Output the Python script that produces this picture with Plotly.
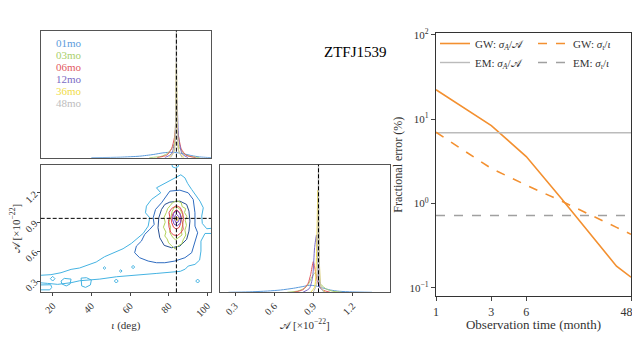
import plotly.graph_objects as go

# ---------------------------------------------------------------
# Right panel: fractional errors vs observation time
months = [1, 3, 6, 12, 36, 48]
gw_amp_err = [22.4, 8.4, 3.6, 1.15, 0.18, 0.133]
gw_inc_err = [7.0, 2.6, 1.65, 1.07, 0.52, 0.43]
em_amp_err = 6.9
em_inc_err = 0.72
month_ticks = [1, 3, 6, 48]

# ---------------------------------------------------------------
# Corner plot: truth and durations
truth_inc = 84.0
truth_amp = 0.94
durations = ["01mo", "03mo", "06mo", "12mo", "36mo", "48mo"]
dur_colors = ["#5b9bdc", "#a9cf6b", "#e25a5f", "#7a6bc4", "#f1dc46", "#bdbdbd"]

# 1D marginal of inclination (deg, relative height)
inc_x = {
    "01mo": [40, 55, 65, 72, 77, 80, 84, 88, 92, 96, 100, 104],
    "03mo": [70, 76, 79, 81.5, 83, 84, 85.5, 88, 91, 96],
    "06mo": [74, 79, 81.5, 83, 84, 85, 86.5, 89, 94],
    "12mo": [78, 81.5, 83, 83.8, 84.3, 85.2, 87, 90],
    "36mo": [80, 82.5, 83.5, 84, 84.5, 85.5, 88],
    "48mo": [81, 83, 83.7, 84, 84.3, 85, 87],
}
inc_h = {
    "01mo": [0, 0.004, 0.012, 0.025, 0.038, 0.042, 0.04, 0.03, 0.016, 0.006, 0.002, 0],
    "03mo": [0, 0.01, 0.03, 0.07, 0.11, 0.12, 0.08, 0.03, 0.01, 0],
    "06mo": [0, 0.02, 0.07, 0.16, 0.26, 0.18, 0.07, 0.02, 0],
    "12mo": [0, 0.03, 0.12, 0.35, 0.45, 0.15, 0.03, 0],
    "36mo": [0, 0.04, 0.25, 0.75, 0.25, 0.04, 0],
    "48mo": [0, 0.06, 0.45, 1.1, 0.45, 0.06, 0],
}

# 1D marginal of amplitude (x1e-22, relative height)
amp_x = {
    "01mo": [0.25, 0.4, 0.55, 0.65, 0.75, 0.82, 0.87, 0.92, 0.97, 1.03, 1.1, 1.2, 1.35],
    "03mo": [0.7, 0.78, 0.83, 0.86, 0.89, 0.91, 0.93, 0.96, 1.0, 1.05, 1.12],
    "06mo": [0.75, 0.82, 0.86, 0.88, 0.9, 0.91, 0.93, 0.95, 0.98, 1.03],
    "12mo": [0.82, 0.87, 0.895, 0.91, 0.925, 0.935, 0.95, 0.99],
    "36mo": [0.88, 0.91, 0.925, 0.935, 0.945, 0.96, 0.99],
    "48mo": [0.9, 0.925, 0.935, 0.94, 0.945, 0.955, 0.98],
}
amp_h = {
    "01mo": [0, 0.003, 0.01, 0.018, 0.032, 0.045, 0.055, 0.05, 0.035, 0.018, 0.008, 0.003, 0],
    "03mo": [0, 0.01, 0.03, 0.06, 0.12, 0.15, 0.13, 0.06, 0.025, 0.008, 0],
    "06mo": [0, 0.02, 0.07, 0.14, 0.24, 0.2, 0.09, 0.04, 0.015, 0],
    "12mo": [0, 0.03, 0.12, 0.35, 0.45, 0.2, 0.04, 0],
    "36mo": [0, 0.04, 0.3, 0.8, 0.3, 0.04, 0],
    "48mo": [0, 0.06, 0.5, 1.1, 0.5, 0.06, 0],
}

# 2D contour outlines (inclination deg, amplitude), None splits loops
c01_outer_inc = [13, 19.1, 24.3, 29.5, 33.9, 38.2, 42.5, 46.8, 51.2, 56.4, 60.7, 63.8, 66.8, 69.4, 70.2,
                 68.0, 68.5, 71.1, 74.2, 75.9, 73.7, 77.1, 80.6, 83.2, 86.3, 88.4, 89.8, 91.9, 93.9,
                 96.2, 97.9, 97.1, 97.4, 99.7, 103, 103, 98.8, 96.7, 96.7, 96.0, 93.6, 90.1, 88.6,
                 86.0, 73.9, 65.2, 53.1, 44.4, 34.0, 29.5, 22.6, 17.4, 13, 13, None,
                 13, 19, 19.5, 18.5, 13, None,
                 18.8, 20, 21.2, 20, 18.8, None,
                 24.3, 26, 29.5, 29, 27, 24.8, 24.3, None,
                 34.7, 37.5, 40, 39.5, 37, 35, 34.7, None,
                 51.9, 52.9, 53.9, 52.9, 51.9, None,
                 54.5, 55.2, 55.9, 55.2, 54.5, None,
                 46.1, 46.8, 47.5, 46.8, 46.1, None,
                 60.8, 61.6, 62.4, 61.6, 60.8, None,
                 94.0, 95.0, 96.0, 95.0, 94.0, None,
                 81.5, 82, 83.5, 85, 85.2]
c01_outer_amp = [0.358, 0.365, 0.385, 0.419, 0.433, 0.46, 0.494, 0.548, 0.589, 0.63, 0.684, 0.739, 0.786,
                 0.861, 0.946, 0.997, 1.065, 1.133, 1.174, 1.201, 1.252, 1.286, 1.32, 1.354, 1.385,
                 1.354, 1.297, 1.235, 1.174, 1.116, 1.048, 0.963, 0.888, 0.834, 0.84, 0.786, 0.786,
                 0.708, 0.606, 0.514, 0.47, 0.453, 0.422, 0.399, 0.378, 0.365, 0.344, 0.32, 0.303,
                 0.283, 0.266, 0.276, 0.283, 0.358, None,
                 0.26, 0.262, 0.235, 0.21, 0.21, None,
                 0.324, 0.348, 0.324, 0.30, 0.324, None,
                 0.30, 0.327, 0.32, 0.27, 0.25, 0.27, 0.30, None,
                 0.33, 0.334, 0.31, 0.26, 0.235, 0.25, 0.33, None,
                 0.30, 0.32, 0.30, 0.28, 0.30, None,
                 0.402, 0.415, 0.402, 0.389, 0.402, None,
                 0.433, 0.446, 0.433, 0.42, 0.433, None,
                 0.443, 0.46, 0.443, 0.426, 0.443, None,
                 0.30, 0.32, 0.30, 0.28, 0.30, None,
                 1.5, 1.465, 1.455, 1.47, 1.5]

c01_mid_inc = [80.6, 85.8, 90.1, 92.7, 93.6, 93.6, 95.0, 93.6, 91.9, 88.4, 83.2, 78.0, 73.7, 69.4,
               65.0, 62.4, 63.3, 65.9, 67.6, 70.2, 72.5, 72.0, 73.2, 76.3, 78.9, 80.6]
c01_mid_amp = [1.218, 1.228, 1.201, 1.133, 0.997, 0.861, 0.793, 0.691, 0.589, 0.538, 0.504, 0.487,
               0.487, 0.504, 0.538, 0.589, 0.657, 0.708, 0.776, 0.827, 0.878, 0.946, 1.031, 1.099,
               1.167, 1.218]

c01_inner_inc = [80.6, 85.8, 89.3, 90.5, 91.0, 90.5, 89.3, 85.8, 81.5, 77.7, 75.4, 74.5, 74.9, 76.3,
                 78.0, 80.6]
c01_inner_amp = [1.106, 1.116, 1.082, 1.014, 0.912, 0.81, 0.725, 0.657, 0.64, 0.664, 0.742, 0.844,
                 0.946, 1.031, 1.082, 1.106]

c03_inc = [84, 86.5, 87, 88.8, 88.2, 89.4, 88.6, 89.2, 88.4, 88.9, 87.5, 86.8, 85, 83.2, 81.5, 80,
           79.2, 78, 78.6, 77.3, 78.2, 77.6, 78.8, 79.5, 80.8, 82, 84, None,
           84, 86, 87.2, 86.6, 87.4, 86.5, 86.9, 85, 83.5, 82, 80.5, 81, 80.2, 81.2, 81.8, 82.8, 84]
c03_amp = [1.12, 1.10, 1.06, 1.04, 1.0, 0.96, 0.92, 0.87, 0.82, 0.77, 0.72, 0.68, 0.66, 0.63, 0.66,
           0.69, 0.73, 0.76, 0.80, 0.85, 0.9, 0.95, 1.0, 1.04, 1.07, 1.1, 1.12, None,
           1.06, 1.03, 0.98, 0.93, 0.88, 0.82, 0.77, 0.74, 0.72, 0.75, 0.8, 0.85, 0.9, 0.96, 1.01,
           1.05, 1.06]

c06_inc = [84, 86, 87.2, 87.7, 87.2, 87.5, 86.2, 84.5, 82.5, 81, 80.2, 79.9, 80.5, 80.2, 81.5, 82.8,
           84, None,
           84, 85.7, 86.5, 86.2, 85.5, 84, 82.5, 81.5, 81.7, 82.5, 84]
c06_amp = [1.07, 1.05, 1.0, 0.94, 0.88, 0.83, 0.79, 0.765, 0.77, 0.8, 0.85, 0.91, 0.96, 1.0, 1.04,
           1.06, 1.07, None,
           1.03, 1.0, 0.95, 0.89, 0.85, 0.83, 0.85, 0.9, 0.96, 1.0, 1.03]

c12_inc = [84.2, 85.8, 86.5, 86, 84.5, 82.8, 82, 82.5, 84.2, None,
           84.1, 85.2, 85.5, 84.8, 83.6, 83, 83.3, 84.1]
c12_amp = [1.02, 0.99, 0.94, 0.89, 0.865, 0.88, 0.93, 0.99, 1.02, None,
           0.98, 0.96, 0.93, 0.9, 0.9, 0.93, 0.97, 0.98]

c36_inc = [84.0, 84.8, 84.9, 84.2, 83.4, 83.5, 84.0]
c36_amp = [0.955, 0.945, 0.925, 0.915, 0.93, 0.95, 0.955]

c48_inc = [84, 84.5, 84.5, 84, 83.6, 84]
c48_amp = [0.945, 0.94, 0.93, 0.925, 0.935, 0.945]

contour_sets = [
    (c01_outer_inc, c01_outer_amp, "#45b3e2"),
    (c01_mid_inc, c01_mid_amp, "#2f6cc0"),
    (c01_inner_inc, c01_inner_amp, "#274f92"),
    (c03_inc, c03_amp, "#b3d35a"),
    (c06_inc, c06_amp, "#e0464e"),
    (c12_inc, c12_amp, "#7a4fc8"),
    (c36_inc, c36_amp, "#f0d030"),
    (c48_inc, c48_amp, "#b0b0b0"),
]

# ---------------------------------------------------------------
# page body adds an 8px offset; keep the figure inside the window
W, H, OFF = 632, 324, 8


def px_x(p):
    return (p - OFF) / W


def px_y(p):
    return 1 - (p - OFF) / H


fig = go.Figure()
serif = "Liberation Serif"
frame = "#555555"

# top marginal (inclination)
for d, c in zip(durations, dur_colors):
    fig.add_trace(go.Scatter(x=inc_x[d], y=inc_h[d], mode="lines", xaxis="x", yaxis="y",
                             line=dict(color=c, width=1, shape="spline", smoothing=0.6),
                             showlegend=False, hoverinfo="skip"))

# 2D contours
for xs, ys, c in contour_sets:
    fig.add_trace(go.Scatter(x=xs, y=ys, mode="lines", xaxis="x2", yaxis="y2",
                             line=dict(color=c, width=1), showlegend=False, hoverinfo="skip"))

# right marginal (amplitude)
for d, c in zip(durations, dur_colors):
    fig.add_trace(go.Scatter(x=amp_x[d], y=amp_h[d], mode="lines", xaxis="x3", yaxis="y3",
                             line=dict(color=c, width=1, shape="spline", smoothing=0.6),
                             showlegend=False, hoverinfo="skip"))

# truth lines
dashline = dict(color="black", width=1, dash="4px,2px")
for xr, yr, v in [("x", "y domain", truth_inc), ("x2", "y2 domain", truth_inc), ("x3", "y3 domain", truth_amp)]:
    fig.add_shape(type="line", xref=xr, yref=yr, x0=v, x1=v, y0=0, y1=1, line=dashline)
fig.add_shape(type="line", xref="x2 domain", yref="y2", x0=0, x1=1, y0=truth_amp, y1=truth_amp,
              line=dashline)

# fractional errors
orange = "#f39030"
fig.add_trace(go.Scatter(x=months, y=gw_amp_err, mode="lines", xaxis="x4", yaxis="y4", legend="legend",
                         name="GW: <i>σ<sub>A</sub></i>/𝒜", line=dict(color=orange, width=1.6)))
fig.add_trace(go.Scatter(x=[months[0], months[-1]], y=[em_amp_err] * 2, mode="lines", xaxis="x4", yaxis="y4",
                         legend="legend",
                         name="EM: <i>σ<sub>A</sub></i>/𝒜", line=dict(color="#bbbbbb", width=1.4)))
fig.add_trace(go.Scatter(x=months, y=gw_inc_err, mode="lines", xaxis="x4", yaxis="y4", legend="legend2",
                         name="GW: <i>σ<sub>ι</sub></i>/<i>ι</i>",
                         line=dict(color=orange, width=1.6, dash="dash")))
fig.add_trace(go.Scatter(x=[months[0], months[-1]], y=[em_inc_err] * 2, mode="lines", xaxis="x4", yaxis="y4",
                         legend="legend2",
                         name="EM: <i>σ<sub>ι</sub></i>/<i>ι</i>",
                         line=dict(color="#a0a0a0", width=1.4, dash="dash")))

# duration labels
for i, (d, c) in enumerate(zip(durations, dur_colors)):
    fig.add_annotation(text=d, xref="paper", yref="paper", x=px_x(54), y=px_y(42.5 + 12.2 * i),
                       xanchor="left", yanchor="middle", showarrow=False,
                       font=dict(family=serif, size=11, color=c))

fig.add_annotation(text="ZTFJ1539", xref="paper", yref="paper", x=px_x(355), y=px_y(42),
                   showarrow=False, font=dict(family=serif, size=15, color="black"))

box = dict(showline=True, mirror=True, linecolor=frame, linewidth=1, showgrid=False, zeroline=False)
tickf = dict(family=serif, size=10, color="#333333")
inc_range = [13.8, 101.9]
amp_range = [0.185, 1.488]
legfont = dict(family=serif, size=11, color="#333333")

left_dom = [px_x(40.7), px_x(211)]
mid_dom = [px_x(220), px_x(390)]
right_dom = [px_x(436), px_x(631)]
top_dom = [px_y(157.7), px_y(30.7)]
low_dom = [px_y(292.3), px_y(164.7)]
err_dom = [px_y(296), px_y(33.3)]

# last month label is padded so it stays inside the visible page
month_text = [str(m) for m in month_ticks]
month_text[-1] = month_text[-1] + "&nbsp;&nbsp;&nbsp;"

fig.update_layout(
    width=W, height=H, margin=dict(l=0, r=0, t=0, b=0, autoexpand=False),
    paper_bgcolor="white", plot_bgcolor="white",
    font=dict(family=serif, color="#333333"),
    xaxis=dict(domain=left_dom, range=inc_range, showticklabels=False, ticks="", anchor="y", **box),
    yaxis=dict(domain=top_dom, range=[0, 1.0], showticklabels=False, ticks="", anchor="x", **box),
    xaxis2=dict(domain=left_dom, range=inc_range, anchor="y2", tickvals=[20, 40, 60, 80, 100],
                ticks="outside", ticklen=3, tickangle=-45, tickfont=tickf,
                title=dict(text="<i>ι</i> (deg)", font=dict(family=serif, size=11), standoff=4), **box),
    yaxis2=dict(domain=low_dom, range=amp_range, anchor="x2", tickvals=[0.3, 0.6, 0.9, 1.2],
                ticks="outside", ticklen=3, tickangle=-45, tickfont=tickf,
                title=dict(text="𝒜 [×10<sup>−22</sup>]", font=dict(family=serif, size=11), standoff=2), **box),
    xaxis3=dict(domain=mid_dom, range=amp_range, anchor="y3", tickvals=[0.3, 0.6, 0.9, 1.2],
                ticks="outside", ticklen=3, tickangle=-45, tickfont=tickf,
                title=dict(text="𝒜 [×10<sup>−22</sup>]", font=dict(family=serif, size=11), standoff=4), **box),
    yaxis3=dict(domain=low_dom, range=[0, 1.0], showticklabels=False, ticks="", anchor="x3", **box),
    xaxis4=dict(domain=right_dom, type="log", range=[0, 1.6812], anchor="y4",
                tickvals=month_ticks, ticktext=month_text, ticklabeloverflow="allow",
                ticks="outside", ticklen=4, tickfont=dict(family=serif, size=12, color="#333333"),
                title=dict(text="Observation time (month)", font=dict(family=serif, size=13), standoff=2),
                showline=True, mirror=True, linecolor="#333333", linewidth=1.2, showgrid=False, zeroline=False),
    yaxis4=dict(domain=err_dom, type="log", range=[-1.099, 2.02], anchor="x4",
                tickvals=[0.1, 1, 10, 100],
                ticktext=["10<sup>−1</sup>", "10<sup>0</sup>", "10<sup>1</sup>", "10<sup>2</sup>"],
                ticks="outside", ticklen=4, tickfont=dict(family=serif, size=11, color="#333333"),
                title=dict(text="Fractional error (%)", font=dict(family=serif, size=12), standoff=4),
                showline=True, mirror=True, linecolor="#333333", linewidth=1.2, showgrid=False, zeroline=False),
    legend=dict(x=px_x(435), y=px_y(29), xanchor="left", yanchor="top", orientation="v",
                bgcolor="rgba(0,0,0,0)", tracegroupgap=0, font=legfont, itemwidth=30),
    legend2=dict(x=px_x(533), y=px_y(29), xanchor="left", yanchor="top", orientation="v",
                 bgcolor="rgba(0,0,0,0)", tracegroupgap=0, font=legfont, itemwidth=30),
)

fig.write_html("out.html")
